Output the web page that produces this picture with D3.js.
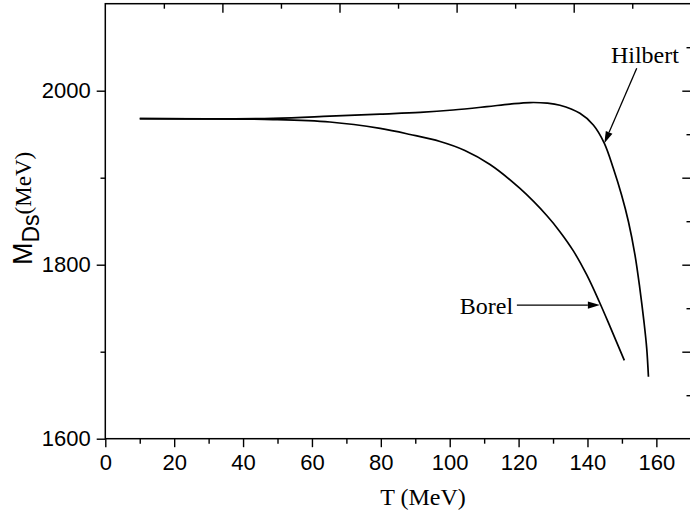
<!DOCTYPE html>
<html>
<head>
<meta charset="utf-8">
<script src="https://cdn.jsdelivr.net/npm/d3@7"></script>
<style>
  html, body { margin: 0; padding: 0; background: #fff; }
  svg { display: block; }
</style>
</head>
<body>
<svg id="chart" width="690" height="523"></svg>
<script>
// ---- data ----
const borelT = [10, 48.7, 65.2, 79.8, 88.5, 97.2, 104.4, 111.7, 120.4, 128.3, 132.0, 135.9, 139.8, 143.4, 146.5, 150.7];
const borelM = [1967.8, 1966.8, 1964.0, 1956.6, 1949.7, 1941.6, 1931.3, 1915.2, 1887.6, 1856.0, 1838.0, 1815.9, 1788.2, 1757.7, 1729.4, 1690.0];

const hilbertT = [10, 48.7, 65.2, 79.8, 91.4, 101, 110.8, 117.5, 123.3, 128.3, 132, 137.8, 141.7, 144.9, 147.5, 149.9, 151.9, 153.8, 155.2, 156.4, 157.2, 157.7];
const hilbertM = [1967.8, 1968.3, 1970.7, 1973.1, 1975.1, 1977.8, 1981.7, 1984.6, 1986.4, 1985.7, 1983.3, 1974.0, 1960.6, 1939.5, 1910.8, 1880.1, 1849.4, 1811.1, 1772.9, 1734.5, 1703.9, 1671.3];

const xMajorTicks = [0, 20, 40, 60, 80, 100, 120, 140, 160];
const xMinorTicks = [10, 30, 50, 70, 90, 110, 130, 150, 170];
const yMajorTicks = [1600, 1800, 2000];
const yMinorTicks = [1700, 1900];
const topMajorTicks = [34, 68, 102, 136];
const topMinorTicks = [17, 51, 85, 119, 153];
const rightMajorTicks = [1700, 1800, 1900, 2000];
const rightMinorTicks = [1650, 1750, 1850, 1950, 2050];

const xDomain = [0, 170];
const yDomain = [1600, 2100];

// ---- layout ----
const svg = d3.select("#chart");
const L = 105.3, R = 690.8, T = 3.7, B = 438.7;
const x = d3.scaleLinear().domain(xDomain).range([L, R]);
const y = d3.scaleLinear().domain(yDomain).range([B, T]);

const sans = "'Liberation Sans', Arial, sans-serif";
const serif = "'Liberation Serif', 'Times New Roman', serif";

function styleAxis(g) {
  g.select(".domain").remove();
  g.selectAll(".tick line").attr("stroke", "#000").attr("stroke-width", 1.4);
  g.selectAll(".tick text").attr("fill", "#000").attr("font-family", sans).attr("font-size", 22);
}

// bottom axis
svg.append("g").attr("transform", `translate(0,${B})`)
  .call(d3.axisBottom(x).tickValues(xMajorTicks).tickSize(8.5).tickPadding(7).tickFormat(d3.format("d")))
  .call(styleAxis);
svg.append("g").attr("transform", `translate(0,${B})`)
  .call(d3.axisBottom(x).tickValues(xMinorTicks).tickSize(5).tickFormat(""))
  .call(styleAxis);

// left axis
svg.append("g").attr("transform", `translate(${L},0)`)
  .call(d3.axisLeft(y).tickValues(yMajorTicks).tickSize(8.6).tickPadding(6).tickFormat(d3.format("d")))
  .call(styleAxis);
svg.append("g").attr("transform", `translate(${L},0)`)
  .call(d3.axisLeft(y).tickValues(yMinorTicks).tickSize(4.8).tickFormat(""))
  .call(styleAxis);

// top axis (ticks inward)
svg.append("g").attr("transform", `translate(0,${T})`)
  .call(d3.axisTop(x).tickValues(topMajorTicks).tickSize(-9).tickFormat(""))
  .call(styleAxis);
svg.append("g").attr("transform", `translate(0,${T})`)
  .call(d3.axisTop(x).tickValues(topMinorTicks).tickSize(-5).tickFormat(""))
  .call(styleAxis);

// right axis (ticks inward)
svg.append("g").attr("transform", `translate(${R},0)`)
  .call(d3.axisRight(y).tickValues(rightMajorTicks).tickSize(-8.5).tickFormat(""))
  .call(styleAxis);
svg.append("g").attr("transform", `translate(${R},0)`)
  .call(d3.axisRight(y).tickValues(rightMinorTicks).tickSize(-4.3).tickFormat(""))
  .call(styleAxis);

// frame
svg.append("rect")
  .attr("x", L).attr("y", T).attr("width", R - L).attr("height", B - T)
  .attr("fill", "none").attr("stroke", "#000").attr("stroke-width", 1.5);

// curves
const line = d3.line().x(d => x(d[0])).y(d => y(d[1])).curve(d3.curveCatmullRom.alpha(0.5));
const borel = borelT.map((t, i) => [t, borelM[i]]);
const hilbert = hilbertT.map((t, i) => [t, hilbertM[i]]);
[borel, hilbert].forEach(s => {
  svg.append("path").datum(s).attr("d", line)
    .attr("fill", "none").attr("stroke", "#000").attr("stroke-width", 1.7)
    .attr("stroke-linejoin", "round");
});

// annotations (in data coordinates)
function arrow(t0, m0, t1, m1) {
  const x0 = x(t0), y0 = y(m0), x1 = x(t1), y1 = y(m1);
  const ang = Math.atan2(y1 - y0, x1 - x0);
  const len = 12, hw = 3.6;
  const bx = x1 - len * Math.cos(ang), by = y1 - len * Math.sin(ang);
  svg.append("line").attr("x1", x0).attr("y1", y0).attr("x2", bx).attr("y2", by)
    .attr("stroke", "#000").attr("stroke-width", 1.3);
  const px = -Math.sin(ang) * hw, py = Math.cos(ang) * hw;
  svg.append("path")
    .attr("d", `M${x1},${y1}L${bx + px},${by + py}L${bx - px},${by - py}Z`)
    .attr("fill", "#000");
}
svg.append("text").attr("x", x(118.4)).attr("y", y(1743))
  .attr("text-anchor", "end").attr("font-family", serif).attr("font-size", 24).text("Borel");
arrow(119.5, 1753.6, 143.6, 1753.6);

svg.append("text").attr("x", x(146.8)).attr("y", y(2031.5))
  .attr("text-anchor", "start").attr("font-family", serif).attr("font-size", 24).text("Hilbert");
arrow(154.3, 2025.7, 144.9, 1939.5);

// axis titles
svg.append("text").attr("x", 423).attr("y", 505)
  .attr("text-anchor", "middle").attr("font-family", serif).attr("font-size", 24).text("T (MeV)");

const yl = svg.append("text").attr("transform", "translate(32,265) rotate(-90)")
  .attr("text-anchor", "start");
yl.append("tspan").attr("font-family", sans).attr("font-size", 27).text("M");
yl.append("tspan").attr("font-family", sans).attr("font-size", 23).attr("dy", 7).text("Ds");
yl.append("tspan").attr("font-family", serif).attr("font-size", 23).attr("dy", -8).text("(MeV)");
</script>
</body>
</html>
